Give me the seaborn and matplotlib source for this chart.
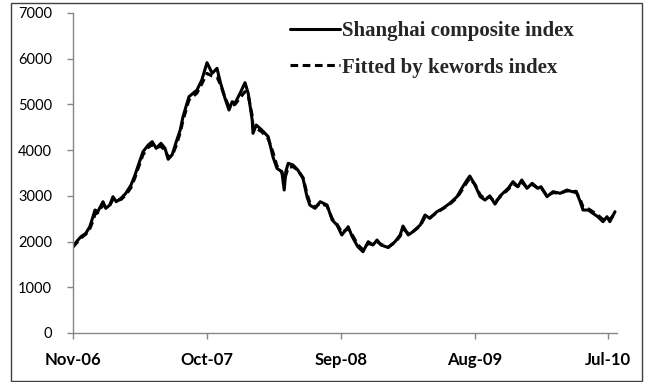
import pandas as pd
import matplotlib
matplotlib.use("Agg")
import matplotlib.pyplot as plt
import matplotlib.dates as mdates
from matplotlib.patches import Rectangle
import seaborn as sns

# days since 2006-11-01 for each sample
days = [0, 12, 20, 32, 42, 50, 55, 62, 75, 82, 92, 100, 108, 120, 132, 145, 155, 162,
        175, 188, 198, 208, 220, 230, 238, 248, 258, 268, 275, 285, 290, 310, 322, 335,
        348, 360, 368, 380, 390, 398, 405, 418, 430, 438, 448, 450, 458, 472, 488, 500,
        510, 522, 528, 532, 538, 550, 562, 575, 585, 592, 605, 618, 635, 648, 660, 672,
        688, 698, 712, 725, 738, 750, 760, 770, 788, 805, 818, 825, 838, 850, 868, 880,
        892, 910, 925, 942, 960, 972, 985, 992, 1005, 1018, 1030, 1042, 1055, 1068, 1088,
        1100, 1112, 1122, 1135, 1148, 1162, 1170, 1185, 1200, 1218, 1235, 1248, 1258,
        1268, 1275, 1288, 1300, 1312, 1325, 1335, 1342, 1355]

shanghai = [1900, 2030, 2107, 2180, 2325, 2544, 2690, 2654, 2872, 2727, 2800, 2982, 2872,
            2946, 3056, 3237, 3456, 3638, 3966, 4112, 4185, 4040, 4150, 4040, 3800, 3900,
            4180, 4440, 4731, 5025, 5170, 5316, 5534, 5913, 5681, 5790, 5497, 5134, 4878,
            5060, 5025, 5250, 5476, 5243, 4660, 4368, 4550, 4440, 4295, 3850, 3600, 3529,
            3128, 3529, 3712, 3675, 3566, 3384, 2982, 2800, 2727, 2872, 2800, 2472, 2362,
            2144, 2325, 2107, 1888, 1778, 1997, 1925, 2034, 1925, 1870, 1997, 2144, 2340,
            2144, 2216, 2362, 2581, 2508, 2654, 2727, 2837, 2982, 3165, 3347, 3434, 3237,
            2982, 2909, 3000, 2820, 3000, 3165, 3310, 3201, 3347, 3165, 3274, 3165, 3201,
            2982, 3091, 3056, 3128, 3091, 3100, 2872, 2690, 2690, 2617, 2544, 2435, 2544,
            2435, 2654]

fitted = [1880, 2000, 2080, 2160, 2280, 2450, 2600, 2630, 2800, 2760, 2790, 2930, 2900,
          2920, 3020, 3180, 3400, 3580, 3900, 4060, 4120, 4060, 4080, 4000, 3850, 3880,
          4100, 4380, 4650, 4950, 5100, 5250, 5450, 5680, 5620, 5600, 5450, 5150, 4950,
          4980, 5000, 5150, 5280, 5200, 4750, 4500, 4480, 4400, 4250, 3950, 3650, 3520,
          3350, 3450, 3620, 3640, 3560, 3400, 3050, 2850, 2750, 2840, 2780, 2500, 2380,
          2200, 2280, 2150, 1930, 1820, 1960, 1930, 2000, 1940, 1880, 1980, 2120, 2280,
          2180, 2220, 2340, 2540, 2520, 2640, 2720, 2820, 2960, 3120, 3300, 3380, 3250,
          3020, 2930, 2980, 2860, 2980, 3140, 3270, 3200, 3300, 3180, 3250, 3170, 3180,
          3000, 3070, 3060, 3110, 3080, 3080, 2920, 2760, 2720, 2650, 2580, 2480, 2530,
          2480, 2620]

tick_dates = ["2006-11-01", "2007-10-01", "2008-09-01", "2009-08-01", "2010-07-01"]
y_ticks = [0, 1000, 2000, 3000, 4000, 5000, 6000, 7000]

start = pd.Timestamp("2006-11-01")
df = pd.DataFrame({
    "date": start + pd.to_timedelta(days, unit="D"),
    "Shanghai composite index": shanghai,
    "Fitted by kewords index": fitted,
})

sns.set_style("ticks")
plt.rcParams["font.family"] = ["Lato", "DejaVu Sans"]

fig = plt.figure(figsize=(6.46, 3.82), dpi=100)
ax = fig.add_axes([73 / 646, 49 / 382, 544 / 646, 320 / 382])

# chart border
fig.patches.append(Rectangle((11 / 646, 1.5 / 382), 631 / 646, 378 / 382,
                             transform=fig.transFigure, fill=False,
                             edgecolor="#404040", linewidth=1.0))

sns.lineplot(data=df, x="date", y="Shanghai composite index", ax=ax, color="black",
             linewidth=2.2, label="Shanghai composite index")
sns.lineplot(data=df, x="date", y="Fitted by kewords index", ax=ax, color="black",
             linewidth=2.2, linestyle=(0, (2.5, 1.5)), label="Fitted by kewords index")

ax.set_xlim(start, start + pd.Timedelta(days=1360))
ax.set_ylim(0, 7000)
ax.set_yticks(y_ticks)
ax.set_xticks(pd.to_datetime(tick_dates))
ax.xaxis.set_major_formatter(mdates.DateFormatter("%b-%y"))
ax.set_xlabel("")
ax.set_ylabel("")

for side in ["top", "right"]:
    ax.spines[side].set_visible(False)
for side in ["left", "bottom"]:
    ax.spines[side].set_color("#868686")
    ax.spines[side].set_linewidth(1.0)
ax.tick_params(axis="both", colors="#868686", length=4, width=1.0, direction="out")
ax.tick_params(axis="y", labelcolor="black", labelsize=10.5, pad=11)
ax.tick_params(axis="x", labelcolor="black", labelsize=12, pad=10)
for lbl in ax.get_xticklabels():
    lbl.set_fontweight("bold")

leg = ax.legend(loc="upper left", bbox_to_anchor=(0.383, 1.0), frameon=False,
                handlelength=2.4, handletextpad=0.12, labelspacing=0.78,
                borderaxespad=0.0,
                prop={"family": "Liberation Serif", "weight": "bold", "size": 15})

fig.savefig("out.png", dpi=100)
